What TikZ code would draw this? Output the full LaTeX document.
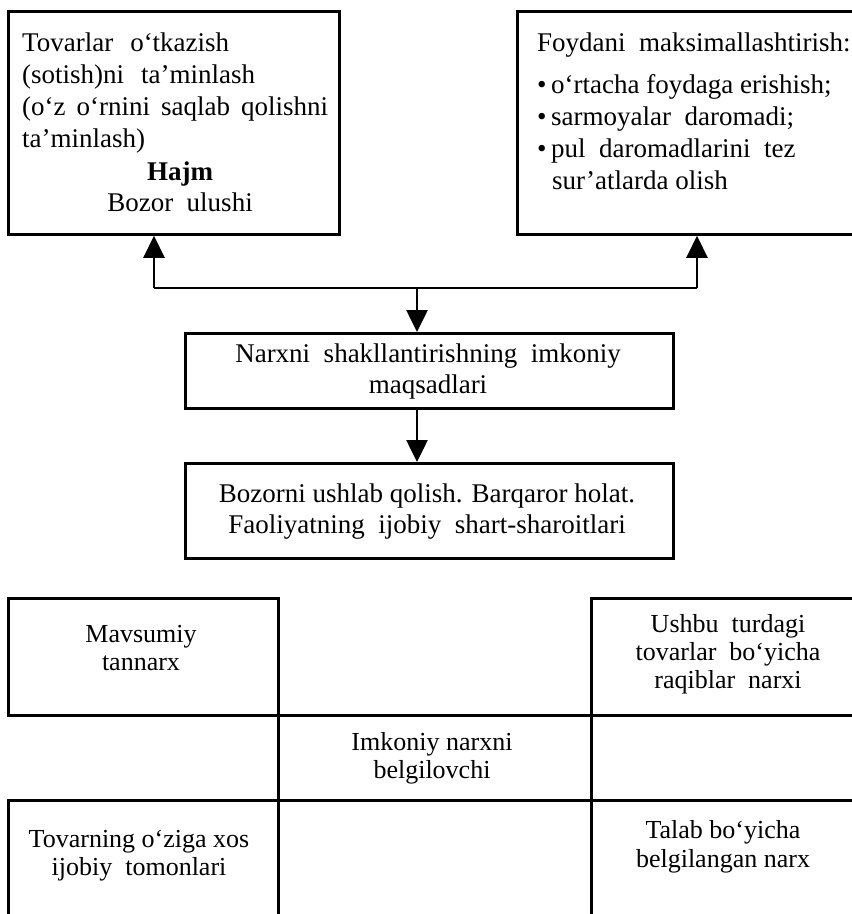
\documentclass[tikz,border=0pt]{standalone}
\usepackage{fontspec}
\setmainfont{Liberation Serif}
\usetikzlibrary{arrows.meta}
\begin{document}
\begin{tikzpicture}[x=1pt,y=-1pt,
  box/.style={draw, line width=2.8pt, inner sep=0pt, anchor=north west},
  ltxt/.style={anchor=base west, inner sep=0pt, font=\fontsize{27}{32}\selectfont},
  ctxt/.style={anchor=base, inner sep=0pt, font=\fontsize{27}{32}\selectfont},
  gtxt/.style={anchor=base, inner sep=0pt, font=\fontsize{26}{28}\selectfont},
  conn/.style={line width=2.6pt},
  arr/.style={line width=2.6pt, -{Triangle[width=21pt,length=22pt]}}]
\clip (0,0) rectangle (852,914);
% top boxes
\node[box, minimum width=331pt, minimum height=223pt] (tl) at (7,10) {};
\node[box, minimum width=360pt, minimum height=223pt] (tr) at (516,10) {};
% middle boxes
\node[box, minimum width=488pt, minimum height=75pt] (mid) at (184,332) {};
\node[box, minimum width=488pt, minimum height=95pt] (bot) at (184,462) {};
% grid
\node[box, minimum width=270pt, minimum height=117pt] (g1) at (7,597) {};
\node[box, minimum width=280pt, minimum height=117pt] (g2) at (590,597) {};
\node[box, minimum width=313pt, minimum height=85pt] (g3) at (277,714) {};
\node[box, minimum width=270pt, minimum height=140pt] (g4) at (7,799) {};
\node[box, minimum width=280pt, minimum height=140pt] (g5) at (590,799) {};
% connectors
\coordinate (j1) at (154,288);
\coordinate (j2) at (697,288);
\coordinate (j3) at (417,288);
\draw[conn] (j1) -- (j2);
\draw[arr] (j1) -- (j1 |- tl.south);
\draw[arr] (j2) -- (j2 |- tr.south);
\draw[arr] (j3) -- (j3 |- mid.north);
\draw[arr] (j3 |- mid.south) -- (j3 |- bot.north);
% texts top-left
\node[ltxt] (t1) at (22,51) {Tovarlar\hspace{17pt}o‘tkazish};
\node[ltxt] (t2) at (22,83) {(sotish)ni\hspace{17pt}ta’minlash};
\node[ltxt] (t3) at (22,115) {(o‘z\hspace{11pt}o‘rnini\hspace{11pt}saqlab\hspace{11pt}qolishni};
\node[ltxt] (t4) at (22,147) {ta’minlash)};
\node[ctxt] (t5) at (180,180) {\textbf{Hajm}};
\node[ctxt] (t6) at (180,211) {Bozor\ \ ulushi};
% texts top-right
\node[ltxt] (r1) at (537,51) {Foydani\ \ maksimallashtirish:};
\node[ltxt] (r2) at (537,93) {•\,o‘rtacha foydaga erishish;};
\node[ltxt] (r3) at (537,125) {•\,sarmoyalar\ \ daromadi;};
\node[ltxt] (r4) at (537,157) {•\,pul\ \ daromadlarini\ \ tez};
\node[ltxt] (r5) at (552,189) {sur’atlarda olish};
% middle
\node[ctxt] (m1) at (428,362) {Narxni\ \ shakllantirishning\ \ imkoniy};
\node[ctxt] (m2) at (428,393) {maqsadlari};
\node[ctxt] (b1) at (427,502) {Bozorni ushlab qolish. Barqaror holat.};
\node[ctxt] (b2) at (427,533) {Faoliyatning\ \ ijobiy\ \ shart-sharoitlari};
% grid texts
\node[gtxt] (a1) at (141,642) {Mavsumiy};
\node[gtxt] (a2) at (141,670) {tannarx};
\node[gtxt] (c1) at (728,632) {Ushbu\ \ turdagi};
\node[gtxt] (c2) at (728,660) {tovarlar\ \ bo‘yicha};
\node[gtxt] (c3) at (728,688) {raqiblar\ \ narxi};
\node[gtxt] (e1) at (432,750) {Imkoniy narxni};
\node[gtxt] (e2) at (432,778) {belgilovchi};
\node[gtxt] (d1) at (139,847) {Tovarning o‘ziga xos};
\node[gtxt] (d2) at (139,875) {ijobiy\ \ tomonlari};
\node[gtxt] (f1) at (723,838) {Talab bo‘yicha};
\node[gtxt] (f2) at (723,867) {belgilangan narx};
\end{tikzpicture}
\end{document}
